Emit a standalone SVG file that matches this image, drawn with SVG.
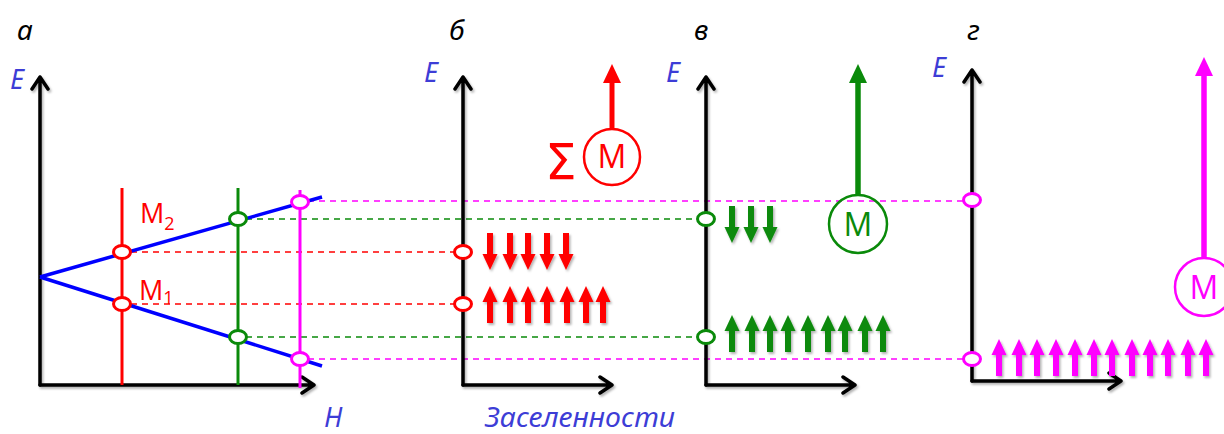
<svg xmlns="http://www.w3.org/2000/svg" xmlns:xlink="http://www.w3.org/1999/xlink" width="1224" height="434" viewBox="0 0 1224 434">
<style>
.axis{fill:none;stroke:#000;stroke-width:3.5;stroke-linecap:round;stroke-linejoin:round}
.lbl{font-family:"Noto Sans","Open Sans","DejaVu Sans",sans-serif;font-style:italic;font-size:28px;fill:#000}
.ax{font-family:"Noto Sans","Open Sans","DejaVu Sans",sans-serif;font-style:italic;font-size:27px;fill:#3d3dd6}
.mt{font-family:"Open Sans","Noto Sans",sans-serif;font-size:32px;text-anchor:middle}
.ml{font-family:"Open Sans","Noto Sans",sans-serif;font-size:27px;fill:#ff0000}
.dash{fill:none;stroke-width:1.6;stroke-dasharray:6 5}
.pt{fill:#fff;stroke-width:3}
.red{stroke:#ff0000}.grn{stroke:#0a8a0a}.mag{stroke:#ff00ff}
.fr{fill:#ff0000}.fg{fill:#0a8a0a}.fm{fill:#ff00ff}
</style>
<defs>
<filter id="sh" x="-30%" y="-30%" width="160%" height="160%">
<feDropShadow dx="1.5" dy="2" stdDeviation="1.2" flood-color="#000" flood-opacity="0.3"/>
</filter>
<path id="up" d="M0,0 L7.5,16 L3,16 L3,37 L-3,37 L-3,16 L-7.5,16 Z"/>
</defs>

<!-- panel labels -->
<g id="labels">
<text class="lbl" x="17" y="40">а</text>
<text class="lbl" x="449" y="40">б</text>
<text class="lbl" x="694" y="40">в</text>
<text class="lbl" x="967" y="40">г</text>
<text class="ax" x="10" y="89">E</text>
<text class="ax" x="424" y="82">E</text>
<text class="ax" x="666" y="82">E</text>
<text class="ax" x="932" y="77">E</text>
<text class="ax" x="324" y="427" font-size="25">H</text>
<text class="ax" x="485" y="427" font-size="25" textLength="190" lengthAdjust="spacingAndGlyphs">Заселенности</text>
</g>

<!-- connectors: dashed projection lines -->
<g id="connectors">
<line class="dash mag" x1="308" y1="201" x2="963" y2="201"/>
<line class="dash grn" x1="246" y1="219" x2="698" y2="219"/>
<line class="dash red" x1="131" y1="252" x2="454" y2="252"/>
<line class="dash red" x1="131" y1="304" x2="454" y2="304"/>
<line class="dash grn" x1="246" y1="337" x2="698" y2="337"/>
<line class="dash mag" x1="308" y1="359" x2="963" y2="359"/>
</g>

<!-- panel a -->
<g id="panel-a">
<g filter="url(#sh)">
<path class="axis" d="M40,385 L40,77 M32,89 L40,77 L48,89"/>
<path class="axis" d="M40,385 L314,385 M302,377 L314,385 L302,393"/>
</g>
<line x1="40" y1="277" x2="322" y2="197" stroke="#0000ff" stroke-width="3.5"/>
<line x1="40" y1="277" x2="322" y2="366" stroke="#0000ff" stroke-width="3.5"/>
<line x1="122" y1="188" x2="122" y2="385" class="red" stroke-width="3"/>
<line x1="238" y1="188" x2="238" y2="385" class="grn" stroke-width="3"/>
<line x1="300" y1="190" x2="300" y2="388" class="mag" stroke-width="3"/>
<ellipse class="pt red" cx="122" cy="252" rx="8.5" ry="6.5"/>
<ellipse class="pt red" cx="122" cy="304" rx="8.5" ry="6.5"/>
<ellipse class="pt grn" cx="238" cy="219" rx="8.5" ry="6.5"/>
<ellipse class="pt grn" cx="238" cy="337" rx="8.5" ry="6.5"/>
<ellipse class="pt mag" cx="300" cy="202" rx="8.5" ry="6.5"/>
<ellipse class="pt mag" cx="300" cy="359" rx="8.5" ry="6.5"/>
<text class="ml" x="140" y="223">M<tspan font-size="18" dy="7">2</tspan></text>
<text class="ml" x="139" y="300">M<tspan font-size="18" dy="4">1</tspan></text>
</g>

<!-- panel b -->
<g id="panel-b">
<g filter="url(#sh)">
<path class="axis" d="M463,385 L463,77 M455,89 L463,77 L471,89"/>
<path class="axis" d="M463,385 L612,385 M600,377 L612,385 L600,393"/>
</g>
<ellipse class="pt red" cx="463" cy="252" rx="8.5" ry="6.5"/>
<ellipse class="pt red" cx="463" cy="304" rx="8.5" ry="6.5"/>
<g class="fr" filter="url(#sh)">
<use xlink:href="#up" transform="translate(490,270) rotate(180)"/>
<use xlink:href="#up" transform="translate(510,270) rotate(180)"/>
<use xlink:href="#up" transform="translate(528,270) rotate(180)"/>
<use xlink:href="#up" transform="translate(547,270) rotate(180)"/>
<use xlink:href="#up" transform="translate(566,270) rotate(180)"/>
<use xlink:href="#up" transform="translate(490,286)"/>
<use xlink:href="#up" transform="translate(510,286)"/>
<use xlink:href="#up" transform="translate(528,286)"/>
<use xlink:href="#up" transform="translate(547,286)"/>
<use xlink:href="#up" transform="translate(567,286)"/>
<use xlink:href="#up" transform="translate(586,286)"/>
<use xlink:href="#up" transform="translate(603,286)"/>
</g>
<g id="moment-b">
<line x1="612" y1="129" x2="612" y2="80" stroke="#ff0000" stroke-width="5"/>
<path class="fr" d="M612,64 L621,83 L603,83 Z"/>
<circle cx="612" cy="157" r="28" fill="none" stroke="#ff0000" stroke-width="2.5"/>
<text class="mt" x="612" y="168" fill="#ff0000" font-size="30">M</text>
<text x="545" y="179" font-family="DejaVu Sans,sans-serif" font-size="50" fill="#ff0000">Σ</text>
</g>
</g>

<!-- panel v -->
<g id="panel-v">
<g filter="url(#sh)">
<path class="axis" d="M706,385 L706,77 M698,89 L706,77 L714,89"/>
<path class="axis" d="M706,385 L855,385 M843,377 L855,385 L843,393"/>
</g>
<ellipse class="pt grn" cx="706" cy="219" rx="8.5" ry="6.5"/>
<ellipse class="pt grn" cx="706" cy="337" rx="8.5" ry="6.5"/>
<g class="fg" filter="url(#sh)">
<use xlink:href="#up" transform="translate(732,243) rotate(180)"/>
<use xlink:href="#up" transform="translate(751,243) rotate(180)"/>
<use xlink:href="#up" transform="translate(770,243) rotate(180)"/>
<use xlink:href="#up" transform="translate(732,315)"/>
<use xlink:href="#up" transform="translate(752,315)"/>
<use xlink:href="#up" transform="translate(770,315)"/>
<use xlink:href="#up" transform="translate(788,315)"/>
<use xlink:href="#up" transform="translate(808,315)"/>
<use xlink:href="#up" transform="translate(828,315)"/>
<use xlink:href="#up" transform="translate(845,315)"/>
<use xlink:href="#up" transform="translate(865,315)"/>
<use xlink:href="#up" transform="translate(883,315)"/>
</g>
<g id="moment-v">
<line x1="858" y1="195" x2="858" y2="80" stroke="#0a8a0a" stroke-width="5.5"/>
<path class="fg" d="M858,64 L867,83 L849,83 Z"/>
<circle cx="858" cy="224" r="29" fill="none" stroke="#0a8a0a" stroke-width="2.5"/>
<text class="mt" x="858" y="236" fill="#0a8a0a">M</text>
</g>
</g>

<!-- panel g -->
<g id="panel-g">
<g filter="url(#sh)">
<path class="axis" d="M972,381 L972,70 M964,82 L972,70 L980,82"/>
<path class="axis" d="M972,381 L1121,381 M1109,373 L1121,381 L1109,389"/>
</g>
<ellipse class="pt mag" cx="972" cy="200" rx="8.5" ry="6.5"/>
<ellipse class="pt mag" cx="972" cy="359" rx="8.5" ry="6.5"/>
<g class="fm" filter="url(#sh)">
<use xlink:href="#up" transform="translate(999,339)"/>
<use xlink:href="#up" transform="translate(1019,339)"/>
<use xlink:href="#up" transform="translate(1037,339)"/>
<use xlink:href="#up" transform="translate(1056,339)"/>
<use xlink:href="#up" transform="translate(1075,339)"/>
<use xlink:href="#up" transform="translate(1094,339)"/>
<use xlink:href="#up" transform="translate(1112,339)"/>
<use xlink:href="#up" transform="translate(1132,339)"/>
<use xlink:href="#up" transform="translate(1150,339)"/>
<use xlink:href="#up" transform="translate(1168,339)"/>
<use xlink:href="#up" transform="translate(1188,339)"/>
<use xlink:href="#up" transform="translate(1206,339)"/>
</g>
<g id="moment-g">
<line x1="1204" y1="258" x2="1204" y2="73" stroke="#ff00ff" stroke-width="5.5"/>
<path class="fm" d="M1204,57 L1213,76 L1195,76 Z"/>
<circle cx="1204" cy="287" r="29" fill="none" stroke="#ff00ff" stroke-width="2.5"/>
<text class="mt" x="1204" y="299" fill="#ff00ff">M</text>
</g>
</g>
</svg>
